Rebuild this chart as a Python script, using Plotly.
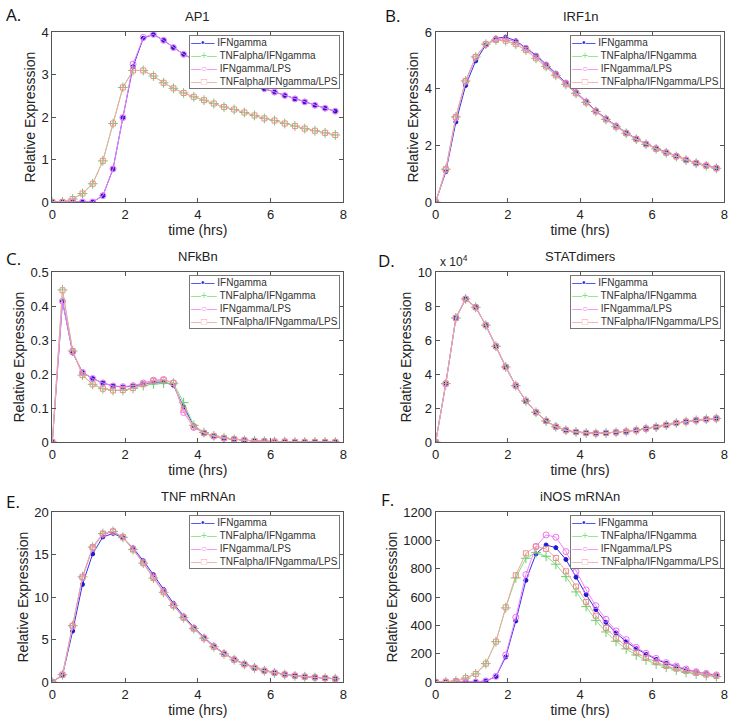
import plotly.graph_objects as go

# ---------------- data ----------------
time_hrs = [0.0, 0.28, 0.56, 0.83, 1.11, 1.39, 1.67, 1.94, 2.22, 2.5, 2.78, 3.06, 3.33, 3.61,
            3.89, 4.17, 4.44, 4.72, 5.0, 5.28, 5.56, 5.83, 6.11, 6.39, 6.67, 6.94, 7.22, 7.5, 7.78]

series_names = ["IFNgamma", "TNFalpha/IFNgamma", "IFNgamma/LPS", "TNFalpha/IFNgamma/LPS"]

ap1_ifng = [0, 0, 0, 0, 0, 0.15, 0.78, 1.99, 3.19, 3.86, 3.95, 3.81, 3.64, 3.48, 3.36, 3.25, 3.15,
            3.05, 2.96, 2.87, 2.77, 2.67, 2.59, 2.51, 2.43, 2.36, 2.28, 2.21, 2.14]
ap1_tnf_ifng = [0, 0, 0.07, 0.2, 0.43, 0.97, 1.85, 2.70, 3.10, 3.10, 2.97, 2.81, 2.68, 2.57, 2.48,
                2.40, 2.32, 2.24, 2.18, 2.11, 2.04, 1.97, 1.92, 1.85, 1.79, 1.73, 1.68, 1.63, 1.58]
ap1_ifng_lps = [0, 0, 0, 0, 0, 0.15, 0.78, 1.99, 3.25, 3.88, 3.95, 3.81, 3.64, 3.48, 3.36, 3.25, 3.15,
                3.05, 2.96, 2.87, 2.77, 2.67, 2.59, 2.51, 2.43, 2.36, 2.28, 2.21, 2.14]
ap1_tnf_ifng_lps = [0, 0, 0.07, 0.2, 0.43, 0.97, 1.85, 2.70, 3.10, 3.10, 2.97, 2.81, 2.68, 2.57, 2.48,
                    2.40, 2.32, 2.24, 2.18, 2.11, 2.04, 1.97, 1.92, 1.85, 1.79, 1.73, 1.68, 1.63, 1.58]

irf_ifng = [0, 1.07, 2.83, 4.12, 4.99, 5.55, 5.79, 5.83, 5.70, 5.46, 5.19, 4.87, 4.55, 4.22, 3.89,
            3.56, 3.23, 2.95, 2.69, 2.45, 2.24, 2.05, 1.90, 1.76, 1.62, 1.49, 1.38, 1.29, 1.20]
irf_tnf_ifng = [0, 1.16, 3.01, 4.28, 5.13, 5.58, 5.73, 5.70, 5.58, 5.37, 5.08, 4.79, 4.48, 4.16, 3.84,
                3.52, 3.20, 2.92, 2.66, 2.43, 2.22, 2.04, 1.88, 1.74, 1.61, 1.48, 1.37, 1.28, 1.19]
irf_ifng_lps = [0, 1.14, 2.98, 4.26, 5.12, 5.58, 5.76, 5.77, 5.66, 5.43, 5.15, 4.84, 4.52, 4.20, 3.87,
                3.54, 3.22, 2.94, 2.68, 2.44, 2.23, 2.05, 1.89, 1.75, 1.62, 1.49, 1.38, 1.29, 1.20]
irf_tnf_ifng_lps = [0, 1.16, 3.01, 4.28, 5.13, 5.58, 5.73, 5.70, 5.58, 5.37, 5.08, 4.79, 4.48, 4.16, 3.84,
                    3.52, 3.20, 2.92, 2.66, 2.43, 2.22, 2.04, 1.88, 1.74, 1.61, 1.48, 1.37, 1.28, 1.19]

nfkb_ifng = [0, 0.415, 0.263, 0.205, 0.187, 0.174, 0.165, 0.162, 0.165, 0.171, 0.176, 0.177, 0.167,
             0.104, 0.048, 0.027, 0.017, 0.011, 0.008, 0.005, 0.003, 0.002, 0.001, 0.001, 0, 0, 0, 0, 0]
nfkb_tnf_ifng = [0, 0.448, 0.268, 0.197, 0.170, 0.157, 0.152, 0.152, 0.158, 0.166, 0.171, 0.173, 0.173,
                 0.116, 0.049, 0.028, 0.018, 0.012, 0.008, 0.005, 0.003, 0.002, 0.001, 0.001, 0, 0, 0, 0, 0]
nfkb_ifng_lps = [0, 0.415, 0.265, 0.205, 0.187, 0.174, 0.165, 0.163, 0.166, 0.174, 0.182, 0.184, 0.174,
                 0.087, 0.043, 0.026, 0.017, 0.011, 0.008, 0.005, 0.003, 0.002, 0.001, 0.001, 0, 0, 0, 0, 0]
nfkb_tnf_ifng_lps = [0, 0.447, 0.268, 0.197, 0.170, 0.157, 0.152, 0.153, 0.159, 0.170, 0.180, 0.183, 0.174,
                     0.095, 0.045, 0.027, 0.018, 0.012, 0.008, 0.005, 0.003, 0.002, 0.001, 0.001, 0, 0, 0, 0, 0]

# STATdimers, in units of 10^4
stat_ifng = [0, 3.44, 7.31, 8.43, 7.94, 6.88, 5.64, 4.42, 3.32, 2.42, 1.75, 1.24, 0.90, 0.69, 0.59,
             0.53, 0.51, 0.53, 0.57, 0.61, 0.69, 0.79, 0.88, 1.00, 1.12, 1.20, 1.28, 1.34, 1.39]
stat_tnf_ifng = list(stat_ifng)
stat_ifng_lps = list(stat_ifng)
stat_tnf_ifng_lps = list(stat_ifng)

tnf_ifng = [0, 0.79, 6.0, 11.5, 15.1, 17.1, 17.5, 17.0, 15.8, 14.3, 12.65, 10.9, 9.27, 7.78, 6.44,
            5.27, 4.24, 3.38, 2.67, 2.12, 1.69, 1.34, 1.10, 0.90, 0.75, 0.63, 0.55, 0.47, 0.39]
tnf_tnf_ifng = [0, 0.86, 6.64, 12.4, 15.9, 17.5, 17.75, 17.05, 15.6, 14.0, 12.25, 10.57, 9.0, 7.58, 6.29,
                5.15, 4.15, 3.31, 2.62, 2.08, 1.66, 1.32, 1.08, 0.88, 0.73, 0.62, 0.53, 0.46, 0.38]
tnf_ifng_lps = [0, 0.86, 6.6, 12.3, 15.8, 17.4, 17.7, 17.1, 15.7, 14.1, 12.4, 10.7, 9.1, 7.65, 6.35,
                5.2, 4.2, 3.35, 2.65, 2.1, 1.68, 1.33, 1.09, 0.89, 0.74, 0.62, 0.54, 0.46, 0.38]
tnf_tnf_ifng_lps = [0, 0.86, 6.64, 12.4, 15.9, 17.5, 17.75, 17.05, 15.6, 14.0, 12.25, 10.57, 9.0, 7.58, 6.29,
                    5.15, 4.15, 3.31, 2.62, 2.08, 1.66, 1.32, 1.08, 0.88, 0.73, 0.62, 0.53, 0.46, 0.38]

inos_ifng = [0, 0, 0, 0, 0, 7, 38, 177, 432, 719, 906, 969, 950, 866, 741, 618, 512, 422, 347, 285,
             236, 196, 160, 132, 108, 87, 71, 59, 47]
inos_tnf_ifng = [0, 2, 7, 28, 57, 130, 285, 524, 736, 875, 915, 889, 833, 745, 637, 533, 436, 354, 288,
                 234, 191, 156, 127, 104, 85, 68, 57, 45, 38]
inos_ifng_lps = [0, 0, 0, 0, 0, 8, 40, 191, 458, 759, 958, 1040, 1024, 922, 781, 651, 540, 443, 361,
                 300, 245, 203, 167, 137, 113, 92, 73, 61, 50]
inos_tnf_ifng_lps = [0, 2, 7, 28, 57, 130, 285, 528, 755, 910, 958, 941, 877, 783, 675, 566, 469, 382,
                     309, 255, 208, 170, 139, 113, 94, 78, 64, 52, 42]

panel_letters = ["A.", "B.", "C.", "D.", "E.", "F."]
panel_titles = ["AP1", "IRF1n", "NFkBn", "STATdimers", "TNF mRNAn", "iNOS mRNAn"]
panel_series = [
    [ap1_ifng, ap1_tnf_ifng, ap1_ifng_lps, ap1_tnf_ifng_lps],
    [irf_ifng, irf_tnf_ifng, irf_ifng_lps, irf_tnf_ifng_lps],
    [nfkb_ifng, nfkb_tnf_ifng, nfkb_ifng_lps, nfkb_tnf_ifng_lps],
    [stat_ifng, stat_tnf_ifng, stat_ifng_lps, stat_tnf_ifng_lps],
    [tnf_ifng, tnf_tnf_ifng, tnf_ifng_lps, tnf_tnf_ifng_lps],
    [inos_ifng, inos_tnf_ifng, inos_ifng_lps, inos_tnf_ifng_lps],
]
y_ticks = [
    [0, 1, 2, 3, 4],
    [0, 2, 4, 6],
    [0, 0.1, 0.2, 0.3, 0.4, 0.5],
    [0, 2, 4, 6, 8, 10],
    [0, 5, 10, 15, 20],
    [0, 200, 400, 600, 800, 1000, 1200],
]
x_ticks = [0, 2, 4, 6, 8]

# ---------------- styling ----------------
W, H = 733, 721
line_colors = ["rgb(50,50,235)", "rgb(125,225,125)", "rgb(245,130,245)", "rgb(245,165,165)"]
marker_colors = ["rgb(25,25,210)", "rgb(105,205,105)", "rgb(240,110,240)", "rgb(235,140,140)"]
symbols = ["circle", "cross-thin-open", "circle-open", "square-open"]
msizes = [4, 7, 6, 5]
legend_glyphs = ["\u2014\u2022\u2014", "\u2014+\u2014", "\u2014\u25cb\u2014", "\u2014\u25a1\u2014"]

col_x = [(52.3, 343.3), (435.7, 724.3)]
row_y = [(32.3, 202.0), (272.3, 442.0), (512.3, 682.0)]

FONT = "Liberation Sans, Arial, Helvetica, sans-serif"

fig = go.Figure()
layout = dict(
    template="none",
    width=W, height=H,
    margin=dict(l=0, r=0, t=0, b=0, pad=0),
    paper_bgcolor="white", plot_bgcolor="white",
    font=dict(family=FONT, size=13, color="#222"),
    showlegend=False,
    annotations=[],
)

for i in range(6):
    r, c = divmod(i, 2)
    x0, x1 = col_x[c]
    y0, y1 = row_y[r]
    ax = "" if i == 0 else str(i + 1)

    for k in range(4):
        fig.add_trace(go.Scatter(
            x=time_hrs, y=panel_series[i][k], name=series_names[k],
            mode="lines+markers",
            line=dict(color=line_colors[k], width=1),
            marker=dict(symbol=symbols[k], size=msizes[k], color=marker_colors[k],
                        line=dict(color=marker_colors[k], width=1)),
            xaxis="x" + ax, yaxis="y" + ax,
        ))

    yt = y_ticks[i]
    common = dict(showgrid=False, zeroline=False, showline=True, linecolor="#555", linewidth=1,
                  mirror="ticks", ticks="inside", ticklen=4, tickcolor="#555",
                  automargin=False, ticklabeloverflow="allow",
                  tickfont=dict(family=FONT, size=13, color="#222"))
    layout["xaxis" + ax] = dict(common, domain=[x0 / W, x1 / W], range=[0, 8], tickvals=x_ticks,
                                anchor="y" + ax,
                                title=dict(text="time (hrs)", font=dict(family=FONT, size=14, color="#222"),
                                           standoff=0))
    layout["yaxis" + ax] = dict(common, domain=[1 - y1 / H, 1 - y0 / H], range=[yt[0], yt[-1]],
                                tickvals=yt, anchor="x" + ax,
                                title=dict(text="Relative Expresssion",
                                           font=dict(family=FONT, size=14, color="#222"), standoff=2))
    # legend box (text entries)
    lines = []
    for k in range(4):
        lines.append('<span style="color:%s">%s</span> %s' % (line_colors[k], legend_glyphs[k], series_names[k]))
    layout["annotations"].append(dict(
        text="<br>".join(lines), xref="paper", yref="paper",
        x=(x1 - 3) / W, y=1 - (y0 + 2.5) / H, xanchor="right", yanchor="top", align="left",
        showarrow=False, bgcolor="white", bordercolor="#777", borderwidth=1, borderpad=1,
        font=dict(family=FONT, size=10, color="#333")))
    # title
    layout["annotations"].append(dict(
        text=panel_titles[i], xref="paper", yref="paper",
        x=(x0 + x1) / 2 / W, y=1 - (y0 - 6) / H, xanchor="center", yanchor="bottom",
        showarrow=False, font=dict(family=FONT, size=13, color="#222")))

letter_pos = [(4, 15), (383, 16), (4, 258), (376, 260), (4, 501), (379, 499)]
for i, (lx, ly) in enumerate(letter_pos):
    layout["annotations"].append(dict(
        text=panel_letters[i], xref="paper", yref="paper", x=lx / W, y=1 - ly / H,
        xanchor="left", yanchor="middle", showarrow=False,
        font=dict(family="Open Sans, Liberation Sans, sans-serif", size=17, color="#111")))

# exponent label for STATdimers
layout["annotations"].append(dict(
    text="x 10<sup>4</sup>", xref="paper", yref="paper", x=438 / W, y=1 - 271 / H,
    xanchor="left", yanchor="bottom", showarrow=False, font=dict(family=FONT, size=12, color="#222")))

fig.update_layout(**layout)
fig.write_html("out.html", config={"displayModeBar": False},
               post_script="document.body.style.margin='0';document.body.style.overflow='hidden';")
